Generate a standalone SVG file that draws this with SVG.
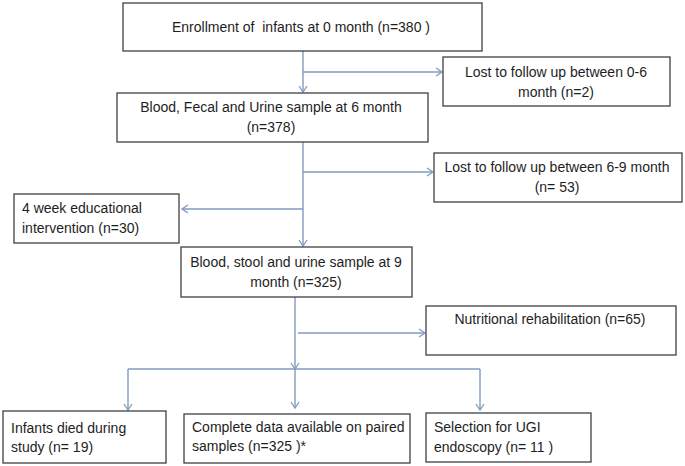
<svg xmlns="http://www.w3.org/2000/svg" width="685" height="466" viewBox="0 0 685 466">
<style>
.box{fill:#ffffff;stroke:#404040;stroke-width:1.3}
.t{font-family:"Liberation Sans",Arial,sans-serif;font-size:14px;fill:#1e1e1e;white-space:pre}
.c{text-anchor:middle}
.ln{fill:none;stroke:#7f9dbf;stroke-width:1.4}
</style>
<defs>
<marker id="ah" markerUnits="userSpaceOnUse" markerWidth="10" markerHeight="10" viewBox="0 0 10 10" refX="7" refY="5" orient="auto">
<path d="M1,1 L7,5 L1,9" fill="none" stroke="#7f9dbf" stroke-width="1.3"/>
</marker>
</defs>
<rect width="685" height="466" fill="#ffffff"/>
<g id="connectors">
<line class="ln" x1="303" y1="51" x2="303" y2="92" marker-end="url(#ah)"/>
<line class="ln" x1="303" y1="72" x2="442" y2="72" marker-end="url(#ah)"/>
<line class="ln" x1="303" y1="142" x2="303" y2="246" marker-end="url(#ah)"/>
<line class="ln" x1="303" y1="172" x2="433" y2="172" marker-end="url(#ah)"/>
<line class="ln" x1="303" y1="209" x2="182" y2="209" marker-end="url(#ah)"/>
<line class="ln" x1="295" y1="297" x2="295" y2="369" marker-end="url(#ah)"/>
<line class="ln" x1="298" y1="333" x2="425" y2="333" marker-end="url(#ah)"/>
<line class="ln" x1="128" y1="369" x2="480" y2="369"/>
<line class="ln" x1="128" y1="369" x2="128" y2="410" marker-end="url(#ah)"/>
<line class="ln" x1="295" y1="369" x2="295" y2="408" marker-end="url(#ah)"/>
<line class="ln" x1="480" y1="369" x2="480" y2="410" marker-end="url(#ah)"/>
</g>
<g id="enrollment">
<rect class="box" x="123" y="3" width="359" height="48"/>
<text class="t c" x="301" y="32">Enrollment of  infants at 0 month (n=380 )</text>
</g>
<g id="lost06">
<rect class="box" x="443" y="57" width="227" height="49"/>
<text class="t c" x="556" y="77">Lost to follow up between 0-6</text>
<text class="t c" x="556" y="97">month (n=2)</text>
</g>
<g id="sample6">
<rect class="box" x="117" y="93" width="311" height="49"/>
<text class="t c" x="271" y="112">Blood, Fecal and Urine sample at 6 month</text>
<text class="t c" x="271" y="132">(n=378)</text>
</g>
<g id="lost69">
<rect class="box" x="434" y="153" width="248" height="49"/>
<text class="t c" x="557" y="172">Lost to follow up between 6-9 month</text>
<text class="t c" x="557" y="192">(n= 53)</text>
</g>
<g id="education">
<rect class="box" x="14" y="194" width="165" height="49"/>
<text class="t" x="22" y="213">4 week educational</text>
<text class="t" x="22" y="233">intervention (n=30)</text>
</g>
<g id="sample9">
<rect class="box" x="181" y="247" width="231" height="50"/>
<text class="t c" x="296" y="267">Blood, stool and urine sample at 9</text>
<text class="t c" x="296" y="287">month (n=325)</text>
</g>
<g id="nutrition">
<rect class="box" x="426" y="306" width="250" height="49"/>
<text class="t c" x="550" y="324">Nutritional rehabilitation (n=65)</text>
</g>
<g id="died">
<rect class="box" x="3" y="411" width="163" height="52"/>
<text class="t" x="11" y="433">Infants died during</text>
<text class="t" x="11" y="452">study (n= 19)</text>
</g>
<g id="complete">
<rect class="box" x="184" y="414" width="226" height="49"/>
<text class="t" x="192" y="432">Complete data available on paired</text>
<text class="t" x="192" y="451">samples (n=325 )*</text>
</g>
<g id="selection">
<rect class="box" x="426" y="413" width="165" height="49"/>
<text class="t" x="434" y="432">Selection for UGI</text>
<text class="t" x="434" y="452">endoscopy (n= 11 )</text>
</g>
</svg>
